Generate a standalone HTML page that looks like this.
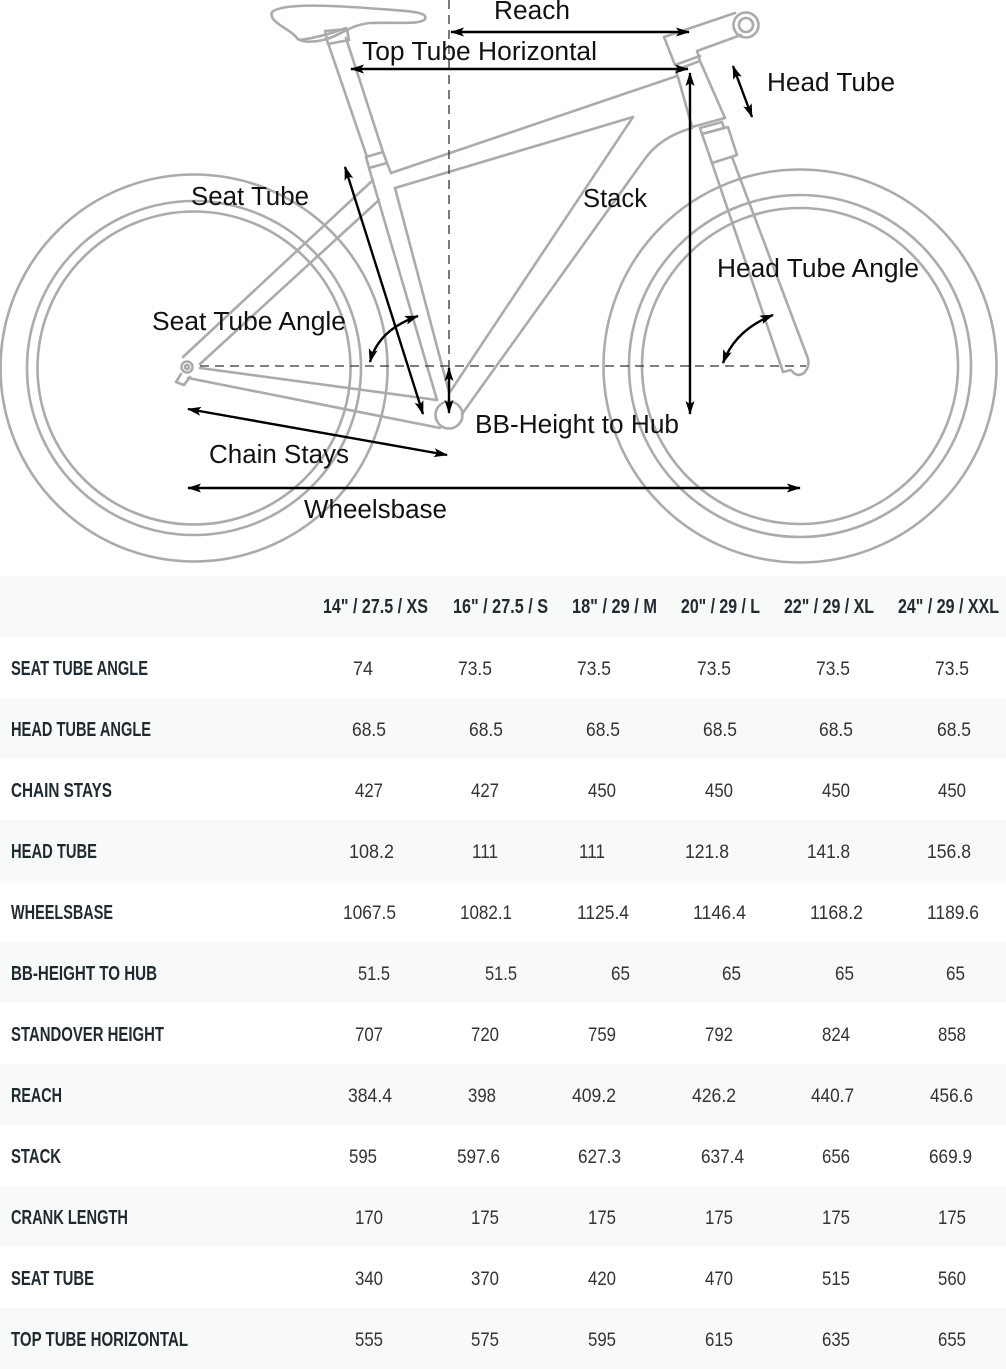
<!DOCTYPE html>
<html>
<head>
<meta charset="utf-8">
<style>
html,body{margin:0;padding:0;background:#fff;}
svg{display:block;}
.lbl{font-family:"Liberation Sans",Arial,sans-serif;font-size:25.5px;fill:#111;}
.hd{font-family:"Liberation Sans",Arial,sans-serif;font-weight:bold;font-size:20px;fill:#222b31;}
.rl{font-family:"Liberation Sans",Arial,sans-serif;font-weight:bold;font-size:20px;fill:#1f2a30;}
.v{font-family:"Liberation Sans",Arial,sans-serif;font-size:19px;fill:#333;}
</style>
</head>
<body>
<svg width="1006" height="1369" viewBox="0 0 1006 1369" xmlns="http://www.w3.org/2000/svg">
<defs>
<marker id="ah" viewBox="0 0 14 10" refX="13" refY="5" markerWidth="14" markerHeight="10" markerUnits="userSpaceOnUse" orient="auto-start-reverse">
<path d="M0,0.5 L14,5 L0,9.5 L3,5 z" fill="#000"/>
</marker>
</defs>
<rect x="0" y="0" width="1006" height="1369" fill="#fff"/>

<!-- wheels -->
<g fill="none" stroke="#ababab" stroke-width="2.6">
<circle cx="194" cy="368" r="193.5"/>
<circle cx="194" cy="368" r="167"/>
<circle cx="194" cy="368" r="156.5"/>
<circle cx="800" cy="366" r="196.5"/>
<circle cx="800" cy="366" r="171"/>
<circle cx="800" cy="366" r="158"/>
</g>

<!-- frame -->
<g fill="none" stroke="#ababab" stroke-width="2.6" stroke-linejoin="round" stroke-linecap="round">
<!-- saddle -->
<path d="M272,12 C282,3 330,5 380,9 C410,11 428,12 425,19 C421,25 395,22 370,23 C352,25 345,32 330,38 C315,43 300,43 296,37 C290,29 268,22 272,12 Z"/>
<path d="M300,40 C315,38 330,34 346,28"/>
<path d="M325,31 L347,29 L349,40 L328,44 Z"/>
<!-- seat post -->
<path d="M328,43 L367,157"/>
<path d="M346,38 L383,152"/>
<!-- seat clamp -->
<path d="M366,157 L383,152 L387,163 L369,168 Z"/>
<!-- seat tube -->
<path d="M369,168 L437,400"/>
<path d="M387,163 L391,173"/>
<path d="M395,188 L449,392"/>
<!-- top tube -->
<path d="M391,173 L677,76"/>
<path d="M395,188 L633,117"/>
<!-- down tube -->
<path d="M633,117 L450,392"/>
<path d="M462,414 L644,160 Q660,137 692,128"/>
<!-- seat stays -->
<path d="M183,357 L373,180"/>
<path d="M200,364 L379,200"/>
<!-- chain stays -->
<path d="M200,368 L437,400"/>
<path d="M188,378 L440,428"/>
<!-- dropout -->
<circle cx="187" cy="367" r="5.5"/>
<circle cx="187" cy="367" r="2"/>
<path d="M181,374 L176,382 L184,385 L190,377"/>
<!-- BB -->
<circle cx="449" cy="415" r="13.5"/>
<!-- head tube -->
<path d="M676,70 L700,61 L725,118 L692,127 Z"/>
<path d="M675,65 L700,56"/>
<!-- stem -->
<path d="M675,65 L664,37 L735,13"/>
<path d="M741,35 L697,51 L700,61"/>
<circle cx="746" cy="25" r="12.5"/>
<circle cx="746" cy="25" r="7"/>
<!-- headset -->
<path d="M700,128 L722,122 L724,128 L702,134 Z"/>
<path d="M702,134 L728,127 L737,155 L712,163 Z"/>
<!-- fork -->
<path d="M712,163 L783,372"/>
<path d="M732,157 L807,356"/>
<path d="M783,372 L791,370 Q797,378 804,373 Q811,365 807,356"/>
</g>

<!-- dashed reference lines -->
<g fill="none" stroke="#333" stroke-width="1.3" stroke-dasharray="9,6">
<path d="M449,0 V410"/>
<path d="M200,366 H806"/>
</g>

<!-- dimension arrows -->
<g fill="none" stroke="#000" stroke-width="2.4" marker-start="url(#ah)" marker-end="url(#ah)">
<path d="M451,32 L689,32"/>
<path d="M351,69 L688,69"/>
<path d="M690,73 L690,414"/>
<path d="M733,66 L752,117"/>
<path d="M345,167 L423,414"/>
<path d="M449,368 L449,413"/>
<path d="M188,409 L447,455"/>
<path d="M188,488 L800,488"/>
<path d="M370,362 Q378,330 418,316"/>
<path d="M723,363 Q735,330 773,315"/>
</g>

<!-- diagram labels -->
<text class="lbl" x="494" y="19" textLength="76" lengthAdjust="spacingAndGlyphs">Reach</text>
<text class="lbl" x="362" y="60" textLength="235" lengthAdjust="spacingAndGlyphs">Top Tube Horizontal</text>
<text class="lbl" x="767" y="91" textLength="128" lengthAdjust="spacingAndGlyphs">Head Tube</text>
<text class="lbl" x="191" y="205" textLength="118" lengthAdjust="spacingAndGlyphs">Seat Tube</text>
<text class="lbl" x="583" y="207" textLength="64" lengthAdjust="spacingAndGlyphs">Stack</text>
<text class="lbl" x="717" y="277" textLength="202" lengthAdjust="spacingAndGlyphs">Head Tube Angle</text>
<text class="lbl" x="152" y="330" textLength="194" lengthAdjust="spacingAndGlyphs">Seat Tube Angle</text>
<text class="lbl" x="475" y="433" textLength="204" lengthAdjust="spacingAndGlyphs">BB-Height to Hub</text>
<text class="lbl" x="209" y="463" textLength="140" lengthAdjust="spacingAndGlyphs">Chain Stays</text>
<text class="lbl" x="304" y="518" textLength="143" lengthAdjust="spacingAndGlyphs">Wheelsbase</text>

<!-- table backgrounds -->
<g fill="#f8f9f9">
<rect x="0" y="576" width="1006" height="61"/>
<rect x="0" y="698" width="1006" height="61"/>
<rect x="0" y="820" width="1006" height="61"/>
<rect x="0" y="942" width="1006" height="61"/>
<rect x="0" y="1064" width="1006" height="61"/>
<rect x="0" y="1186" width="1006" height="61"/>
<rect x="0" y="1308" width="1006" height="61"/>
</g>

<!-- header -->
<text class="hd" x="323" y="613" textLength="105" lengthAdjust="spacingAndGlyphs">14" / 27.5 / XS</text>
<text class="hd" x="453" y="613" textLength="95" lengthAdjust="spacingAndGlyphs">16" / 27.5 / S</text>
<text class="hd" x="572" y="613" textLength="85" lengthAdjust="spacingAndGlyphs">18" / 29 / M</text>
<text class="hd" x="681" y="613" textLength="79" lengthAdjust="spacingAndGlyphs">20" / 29 / L</text>
<text class="hd" x="784" y="613" textLength="90" lengthAdjust="spacingAndGlyphs">22" / 29 / XL</text>
<text class="hd" x="898" y="613" textLength="101" lengthAdjust="spacingAndGlyphs">24" / 29 / XXL</text>

<!-- row labels -->
<text class="rl" x="11" y="675" textLength="137" lengthAdjust="spacingAndGlyphs">SEAT TUBE ANGLE</text>
<text class="rl" x="11" y="736" textLength="140" lengthAdjust="spacingAndGlyphs">HEAD TUBE ANGLE</text>
<text class="rl" x="11" y="797" textLength="101" lengthAdjust="spacingAndGlyphs">CHAIN STAYS</text>
<text class="rl" x="11" y="858" textLength="86" lengthAdjust="spacingAndGlyphs">HEAD TUBE</text>
<text class="rl" x="11" y="919" textLength="102" lengthAdjust="spacingAndGlyphs">WHEELSBASE</text>
<text class="rl" x="11" y="980" textLength="146" lengthAdjust="spacingAndGlyphs">BB-HEIGHT TO HUB</text>
<text class="rl" x="11" y="1041" textLength="153" lengthAdjust="spacingAndGlyphs">STANDOVER HEIGHT</text>
<text class="rl" x="11" y="1102" textLength="51" lengthAdjust="spacingAndGlyphs">REACH</text>
<text class="rl" x="11" y="1163" textLength="50" lengthAdjust="spacingAndGlyphs">STACK</text>
<text class="rl" x="11" y="1224" textLength="117" lengthAdjust="spacingAndGlyphs">CRANK LENGTH</text>
<text class="rl" x="11" y="1285" textLength="83" lengthAdjust="spacingAndGlyphs">SEAT TUBE</text>
<text class="rl" x="11" y="1346" textLength="177" lengthAdjust="spacingAndGlyphs">TOP TUBE HORIZONTAL</text>

<!-- values -->
<g class="v">
<!-- row 1 -->
<text class="v" x="353" y="675" textLength="20" lengthAdjust="spacingAndGlyphs">74</text>
<text class="v" x="458" y="675" textLength="34" lengthAdjust="spacingAndGlyphs">73.5</text>
<text class="v" x="577" y="675" textLength="34" lengthAdjust="spacingAndGlyphs">73.5</text>
<text class="v" x="697" y="675" textLength="34" lengthAdjust="spacingAndGlyphs">73.5</text>
<text class="v" x="816" y="675" textLength="34" lengthAdjust="spacingAndGlyphs">73.5</text>
<text class="v" x="935" y="675" textLength="34" lengthAdjust="spacingAndGlyphs">73.5</text>
<!-- row 2 -->
<text class="v" x="352" y="736" textLength="34" lengthAdjust="spacingAndGlyphs">68.5</text>
<text class="v" x="469" y="736" textLength="34" lengthAdjust="spacingAndGlyphs">68.5</text>
<text class="v" x="586" y="736" textLength="34" lengthAdjust="spacingAndGlyphs">68.5</text>
<text class="v" x="703" y="736" textLength="34" lengthAdjust="spacingAndGlyphs">68.5</text>
<text class="v" x="819" y="736" textLength="34" lengthAdjust="spacingAndGlyphs">68.5</text>
<text class="v" x="937" y="736" textLength="34" lengthAdjust="spacingAndGlyphs">68.5</text>
<!-- row 3 -->
<text class="v" x="355" y="797" textLength="28" lengthAdjust="spacingAndGlyphs">427</text>
<text class="v" x="471" y="797" textLength="28" lengthAdjust="spacingAndGlyphs">427</text>
<text class="v" x="588" y="797" textLength="28" lengthAdjust="spacingAndGlyphs">450</text>
<text class="v" x="705" y="797" textLength="28" lengthAdjust="spacingAndGlyphs">450</text>
<text class="v" x="822" y="797" textLength="28" lengthAdjust="spacingAndGlyphs">450</text>
<text class="v" x="938" y="797" textLength="28" lengthAdjust="spacingAndGlyphs">450</text>
<!-- row 4 -->
<text class="v" x="349" y="858" textLength="45" lengthAdjust="spacingAndGlyphs">108.2</text>
<text class="v" x="472" y="858" textLength="26" lengthAdjust="spacingAndGlyphs">111</text>
<text class="v" x="579" y="858" textLength="26" lengthAdjust="spacingAndGlyphs">111</text>
<text class="v" x="685" y="858" textLength="44" lengthAdjust="spacingAndGlyphs">121.8</text>
<text class="v" x="807" y="858" textLength="43" lengthAdjust="spacingAndGlyphs">141.8</text>
<text class="v" x="927" y="858" textLength="44" lengthAdjust="spacingAndGlyphs">156.8</text>
<!-- row 5 -->
<text class="v" x="343" y="919" textLength="53" lengthAdjust="spacingAndGlyphs">1067.5</text>
<text class="v" x="460" y="919" textLength="52" lengthAdjust="spacingAndGlyphs">1082.1</text>
<text class="v" x="577" y="919" textLength="52" lengthAdjust="spacingAndGlyphs">1125.4</text>
<text class="v" x="693" y="919" textLength="53" lengthAdjust="spacingAndGlyphs">1146.4</text>
<text class="v" x="810" y="919" textLength="53" lengthAdjust="spacingAndGlyphs">1168.2</text>
<text class="v" x="927" y="919" textLength="52" lengthAdjust="spacingAndGlyphs">1189.6</text>
<!-- row 6 -->
<text class="v" x="358" y="980" textLength="32" lengthAdjust="spacingAndGlyphs">51.5</text>
<text class="v" x="485" y="980" textLength="32" lengthAdjust="spacingAndGlyphs">51.5</text>
<text class="v" x="611" y="980" textLength="19" lengthAdjust="spacingAndGlyphs">65</text>
<text class="v" x="722" y="980" textLength="19" lengthAdjust="spacingAndGlyphs">65</text>
<text class="v" x="835" y="980" textLength="19" lengthAdjust="spacingAndGlyphs">65</text>
<text class="v" x="946" y="980" textLength="19" lengthAdjust="spacingAndGlyphs">65</text>
<!-- row 7 -->
<text class="v" x="355" y="1041" textLength="28" lengthAdjust="spacingAndGlyphs">707</text>
<text class="v" x="471" y="1041" textLength="28" lengthAdjust="spacingAndGlyphs">720</text>
<text class="v" x="588" y="1041" textLength="28" lengthAdjust="spacingAndGlyphs">759</text>
<text class="v" x="705" y="1041" textLength="28" lengthAdjust="spacingAndGlyphs">792</text>
<text class="v" x="822" y="1041" textLength="28" lengthAdjust="spacingAndGlyphs">824</text>
<text class="v" x="938" y="1041" textLength="28" lengthAdjust="spacingAndGlyphs">858</text>
<!-- row 8 -->
<text class="v" x="348" y="1102" textLength="44" lengthAdjust="spacingAndGlyphs">384.4</text>
<text class="v" x="468" y="1102" textLength="28" lengthAdjust="spacingAndGlyphs">398</text>
<text class="v" x="572" y="1102" textLength="44" lengthAdjust="spacingAndGlyphs">409.2</text>
<text class="v" x="692" y="1102" textLength="44" lengthAdjust="spacingAndGlyphs">426.2</text>
<text class="v" x="811" y="1102" textLength="43" lengthAdjust="spacingAndGlyphs">440.7</text>
<text class="v" x="930" y="1102" textLength="43" lengthAdjust="spacingAndGlyphs">456.6</text>
<!-- row 9 -->
<text class="v" x="349" y="1163" textLength="28" lengthAdjust="spacingAndGlyphs">595</text>
<text class="v" x="457" y="1163" textLength="43" lengthAdjust="spacingAndGlyphs">597.6</text>
<text class="v" x="578" y="1163" textLength="43" lengthAdjust="spacingAndGlyphs">627.3</text>
<text class="v" x="701" y="1163" textLength="43" lengthAdjust="spacingAndGlyphs">637.4</text>
<text class="v" x="822" y="1163" textLength="28" lengthAdjust="spacingAndGlyphs">656</text>
<text class="v" x="929" y="1163" textLength="43" lengthAdjust="spacingAndGlyphs">669.9</text>
<!-- row 10 -->
<text class="v" x="355" y="1224" textLength="28" lengthAdjust="spacingAndGlyphs">170</text>
<text class="v" x="471" y="1224" textLength="28" lengthAdjust="spacingAndGlyphs">175</text>
<text class="v" x="588" y="1224" textLength="28" lengthAdjust="spacingAndGlyphs">175</text>
<text class="v" x="705" y="1224" textLength="28" lengthAdjust="spacingAndGlyphs">175</text>
<text class="v" x="822" y="1224" textLength="28" lengthAdjust="spacingAndGlyphs">175</text>
<text class="v" x="938" y="1224" textLength="28" lengthAdjust="spacingAndGlyphs">175</text>
<!-- row 11 -->
<text class="v" x="355" y="1285" textLength="28" lengthAdjust="spacingAndGlyphs">340</text>
<text class="v" x="471" y="1285" textLength="28" lengthAdjust="spacingAndGlyphs">370</text>
<text class="v" x="588" y="1285" textLength="28" lengthAdjust="spacingAndGlyphs">420</text>
<text class="v" x="705" y="1285" textLength="28" lengthAdjust="spacingAndGlyphs">470</text>
<text class="v" x="822" y="1285" textLength="28" lengthAdjust="spacingAndGlyphs">515</text>
<text class="v" x="938" y="1285" textLength="28" lengthAdjust="spacingAndGlyphs">560</text>
<!-- row 12 -->
<text class="v" x="355" y="1346" textLength="28" lengthAdjust="spacingAndGlyphs">555</text>
<text class="v" x="471" y="1346" textLength="28" lengthAdjust="spacingAndGlyphs">575</text>
<text class="v" x="588" y="1346" textLength="28" lengthAdjust="spacingAndGlyphs">595</text>
<text class="v" x="705" y="1346" textLength="28" lengthAdjust="spacingAndGlyphs">615</text>
<text class="v" x="822" y="1346" textLength="28" lengthAdjust="spacingAndGlyphs">635</text>
<text class="v" x="938" y="1346" textLength="28" lengthAdjust="spacingAndGlyphs">655</text>
</g>
</svg>
</body>
</html>
